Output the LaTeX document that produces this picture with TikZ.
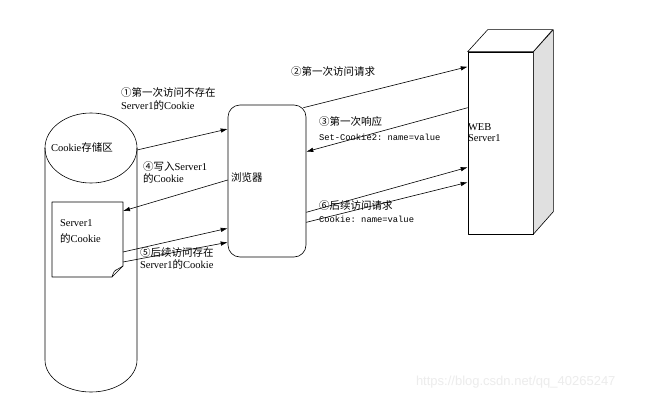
\documentclass[tikz,border=0pt]{standalone}
\usepackage{fontspec}
\setmainfont{Liberation Serif}
\setmonofont{Liberation Mono}
\newfontfamily\cjk{Noto Sans CJK SC}
\newfontfamily\markfont{Liberation Sans}
\usetikzlibrary{arrows.meta}

\begin{document}
\begin{tikzpicture}[x=1pt,y=1pt,
  line/.style={draw=drawColor,line width=0.6pt,line join=round},
  msg/.style={draw=drawColor,line width=0.6pt,-{Latex[length=7pt,width=4.5pt]}},
  txt/.style={text=drawColor,anchor=west,inner sep=0pt,outer sep=0pt,font=\fontsize{10.5}{12}\selectfont},
  code/.style={txt,font=\ttfamily\fontsize{8.8}{11}\selectfont}]
\definecolor{drawColor}{RGB}{0,0,0}
\definecolor{fillColor}{RGB}{255,255,255}
\definecolor{sideColor}{RGB}{224,224,224}
\definecolor{markColor}{RGB}{236,236,236}
\path[use as bounding box,fill=fillColor] (0,0) rectangle (669,400);

\node[inner sep=0pt,outer sep=0pt,minimum width=92,minimum height=212] (store) at (91,146) {};
\path[line,fill=fillColor] (store.north west) -- (store.south west) arc[start angle=180,end angle=360,x radius=46,y radius=32] -- (store.north east);
\path[line] (store.north) ellipse[x radius=46,y radius=35];
\node[txt] (storelabel) at (51,253) {Cookie{\cjk 存储区}};

\node[inner sep=0pt,outer sep=0pt,minimum width=71,minimum height=75] (doc) at (87.5,160.5) {};
\path[line,fill=fillColor] (doc.north west) -- (doc.north east) -- ([yshift=11]doc.south east) -- ([xshift=-11]doc.south east) -- (doc.south west) -- cycle;
\path[line] ([xshift=-11]doc.south east) .. controls ([xshift=-9,yshift=6]doc.south east) .. ([xshift=-5,yshift=8]doc.south east) -- ([yshift=11]doc.south east);
\node[txt] (doclabela) at (60,177) {Server1};
\node[txt] (doclabelb) at (60,162) {{\cjk 的}Cookie};

\node[line,rounded corners=12pt,minimum width=78,minimum height=152,inner sep=0pt] (browser) at (267,219) {};
\node[txt] (browserlabel) at (231,222) {{\cjk 浏览器}};

\node[line,fill=fillColor,minimum width=65,minimum height=182,inner sep=0pt] (server) at (500.5,257) {};
\path[line,fill=sideColor] (server.north east) -- ++(20,22) -- ++(0,-182) -- (server.south east) -- cycle;
\path[line,fill=fillColor] (server.north west) -- ++(20,22) -- ++(65,0) -- (server.north east) -- cycle;
\node[txt] (serverlabela) at (468,273) {WEB};
\node[txt] (serverlabelb) at (468,262) {Server1};

\path[msg] ([yshift=-2]store.north east) -- ([yshift=52]browser.west);
\path[msg] ([xshift=-3,yshift=-3]browser.north east) -- ([yshift=-15]server.north west);
\path[msg] ([yshift=-56]server.north west) -- ([yshift=-47]browser.north east);
\path[msg] ([yshift=1]browser.west) -- ([yshift=-9]doc.north east);
\path[msg] ([yshift=25]doc.south east) -- ([yshift=29]browser.south west);
\path[msg] ([yshift=15]doc.south east) -- ([yshift=15]browser.south west);
\path[msg] ([yshift=45]browser.south east) -- ([yshift=67]server.south west);
\path[msg] ([yshift=35]browser.south east) -- ([yshift=52]server.south west);

\node[txt] (stepa) at (121,307) {{\cjk ①第一次访问不存在}};
\node[txt] (stepb) at (121,295) {Server1{\cjk 的}Cookie};
\node[txt] (stepc) at (291,328) {{\cjk ②第一次访问请求}};
\node[txt] (stepd) at (319,278) {{\cjk ③第一次响应}};
\node[code] (stepe) at (319,263) {Set-Cookie2: name=value};
\node[txt] (stepf) at (143,233) {{\cjk ④写入}Server1};
\node[txt] (stepg) at (143,222) {{\cjk 的}Cookie};
\node[txt] (steph) at (140,147) {{\cjk ⑤后续访问存在}};
\node[txt] (stepi) at (140,136) {Server1{\cjk 的}Cookie};
\node[txt] (stepj) at (319,194) {{\cjk ⑥后续访问请求}};
\node[code] (stepk) at (319,181) {Cookie: name=value};

\node[text=markColor,anchor=west,inner sep=0pt,outer sep=0pt,font=\markfont\fontsize{13}{15}\selectfont] (mark) at (416,18) {https://blog.csdn.net/qq\_40265247};
\end{tikzpicture}
\end{document}
